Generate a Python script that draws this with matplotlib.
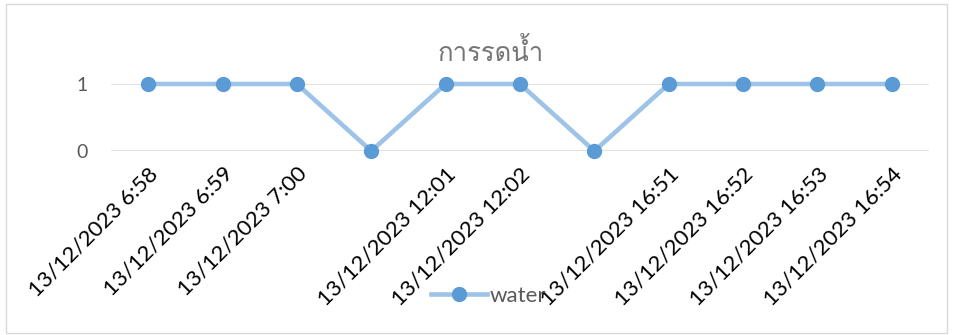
import matplotlib
matplotlib.use("Agg")
import matplotlib.pyplot as plt
from matplotlib import font_manager
from matplotlib.ft2font import FT2Font
from matplotlib.patches import Rectangle

title = "การรดน้ำ"
series_name = "water"
categories = [
    "13/12/2023 6:58", "13/12/2023 6:59", "13/12/2023 7:00", "",
    "13/12/2023 12:01", "13/12/2023 12:02", "",
    "13/12/2023 16:51", "13/12/2023 16:52", "13/12/2023 16:53", "13/12/2023 16:54",
]
values = [1, 1, 1, 0, 1, 1, 0, 1, 1, 1, 1]
y_ticks = [0, 1]


def thai_family():
    """Return a family name whose font contains Thai glyphs, if any."""
    for entry in font_manager.fontManager.ttflist:
        try:
            ft = FT2Font(entry.fname)
            if all(ft.get_char_index(ord(c)) for c in title):
                return entry.name
        except Exception:
            continue
    return "DejaVu Sans"


BASE = "Lato"
plt.rcParams["font.family"] = [BASE, "DejaVu Sans"]

fig = plt.figure(figsize=(9.55, 3.35), dpi=100)
W, H = 955, 335

# chart-area border
fig.patches.append(Rectangle((6 / W, 1 - 333 / H), 941 / W, 329 / H,
                             transform=fig.transFigure, fill=False,
                             edgecolor="#D9D9D9", linewidth=1.0))

ax = fig.add_axes([111 / W, 1 - 151 / H, (929 - 111) / W, 67 / H])
x = list(range(len(values)))
line, = ax.plot(x, values, color="#9DC3E6", linewidth=3.3, marker="o",
                markersize=10, markerfacecolor="#5B9BD5",
                markeredgecolor="#5B9BD5", clip_on=False, zorder=3)

ax.set_xlim(-0.5, len(values) - 0.5)
ax.set_ylim(0, 1)
ax.set_yticks(y_ticks)
ax.set_yticklabels([str(v) for v in y_ticks])
for v in y_ticks:
    ax.axhline(v, color="#D9D9D9", linewidth=1.1, zorder=1)

for s in ax.spines.values():
    s.set_visible(False)
ax.tick_params(axis="y", length=0, pad=17, labelsize=14, labelcolor="#595959")
ax.tick_params(axis="x", length=0, pad=9)
ax.set_xticks(x)
ax.set_xticklabels(categories, rotation=45, ha="right", rotation_mode="anchor",
                   fontsize=16, color="#000000")

fig.text(491 / W, 1 - 52 / H, title, ha="center", va="center",
         fontsize=18.5, color="#757575", family=[thai_family(), "DejaVu Sans"])

fig.legend([line], [series_name], loc="center left",
           bbox_to_anchor=(431 / W, 1 - 296 / H), frameon=False,
           fontsize=16, labelcolor="#595959", handlelength=2.5,
           handletextpad=0.15, borderpad=0, borderaxespad=0)

fig.savefig("out.png", dpi=100, facecolor="white")
